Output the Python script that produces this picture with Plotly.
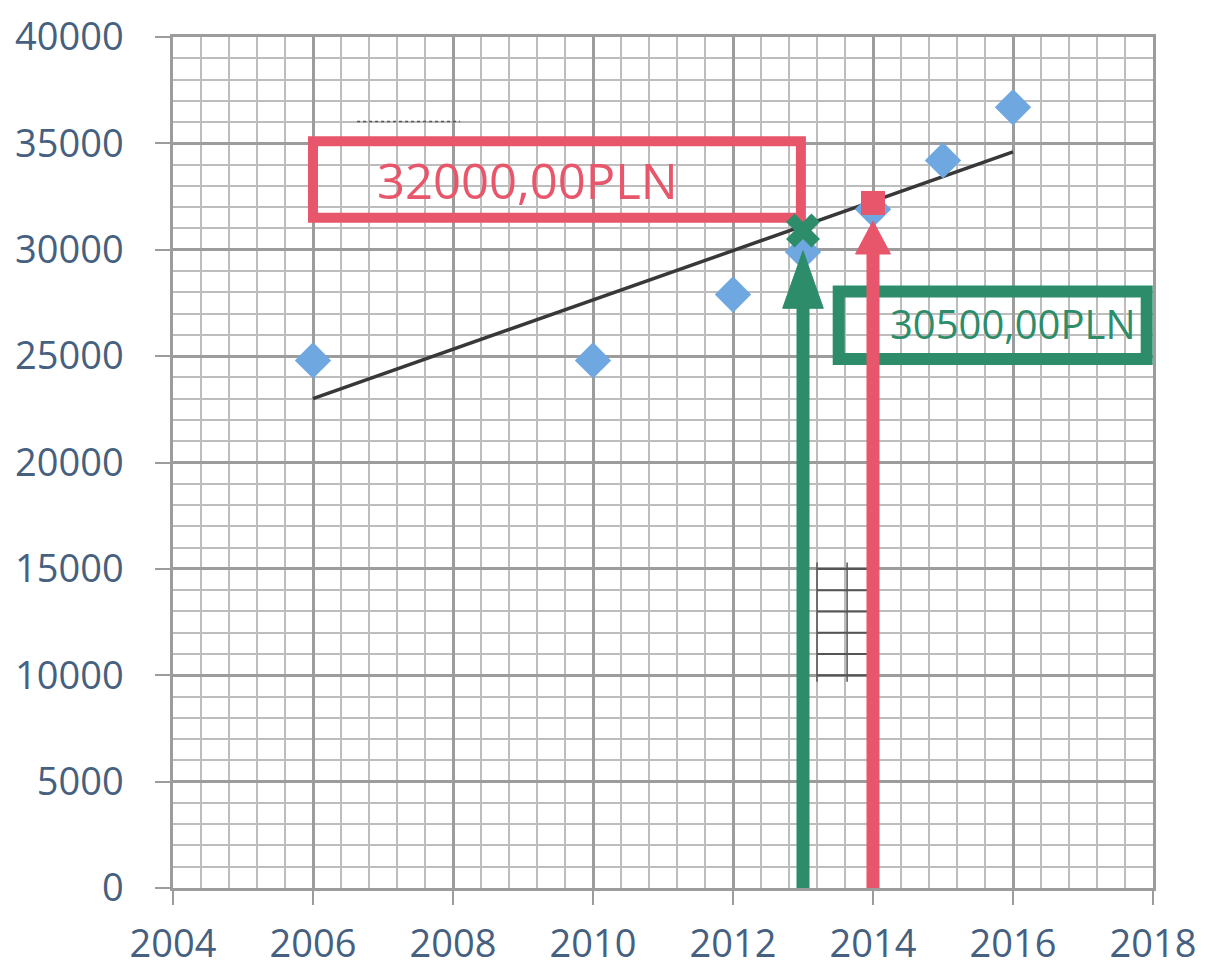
import plotly.graph_objects as go

# ---- data ----
years = [2006, 2010, 2012, 2013, 2014, 2015, 2016]
salaries = [24800, 24800, 27900, 29900, 31900, 34200, 36700]

trend_years = [2006, 2016]
trend_values = [23000, 34600]

green_year = 2013
green_point = 30900
green_label = "30500,00PLN"
green_head = [27250, 29950]      # arrowhead base, tip
green_box_x = [2013.51, 2017.91]
green_box_y = [24860, 28040]
green_text_pos = [2016.0, 26540]

red_year = 2014
red_point = 32200
red_label = "32000,00PLN"
red_head = [29800, 31350]
red_box_x = [2006.0, 2012.97]
red_box_y = [31500, 35100]
red_text_pos = [2009.07, 33270]

# stray marks visible on the scan
ladder_x = [2013.2, 2013.63]
ladder_x_end = 2013.97
ladder_y = [10000, 11000, 12000, 13000, 14000, 15000]
dotted_x = [2006.63, 2008.1]
dotted_y = 36030

x_ticks = [2004, 2006, 2008, 2010, 2012, 2014, 2016, 2018]
y_ticks = [0, 5000, 10000, 15000, 20000, 25000, 30000, 35000, 40000]

GREEN = "#2d8c6a"
RED = "#e8566b"
BLUE = "#6fa8e0"
LABEL = "#46607f"

fig = go.Figure()

# trend line
fig.add_trace(go.Scatter(x=trend_years, y=trend_values, mode="lines",
                         line=dict(color="#383838", width=3.5), hoverinfo="skip"))
# data points
fig.add_trace(go.Scatter(x=years, y=salaries, mode="markers",
                         marker=dict(symbol="diamond", size=28, color=BLUE)))


def arrow(x, head, color, half_w):
    base, tip = head
    fig.add_trace(go.Scatter(x=[x, x], y=[0, base + 100], mode="lines",
                             line=dict(color=color, width=13), cliponaxis=False,
                             hoverinfo="skip"))
    fig.add_trace(go.Scatter(x=[x - half_w, x + half_w, x, x - half_w],
                             y=[base, base, tip, base], mode="lines",
                             fill="toself", fillcolor=color,
                             line=dict(color=color, width=1), hoverinfo="skip"))


arrow(green_year, green_head, GREEN, 0.29)
arrow(red_year, red_head, RED, 0.25)

fig.add_trace(go.Scatter(x=[green_year], y=[green_point], mode="markers",
                         marker=dict(symbol="x", size=30, color=GREEN)))
fig.add_trace(go.Scatter(x=[red_year], y=[red_point], mode="markers",
                         marker=dict(symbol="square", size=24, color=RED)))

# stray marks
for yv in ladder_y:
    fig.add_shape(type="line", x0=ladder_x[0], x1=ladder_x_end, y0=yv, y1=yv,
                  line=dict(color="#555555", width=2), layer="between")
for xv in ladder_x:
    fig.add_shape(type="line", x0=xv, x1=xv, y0=ladder_y[0] - 300, y1=ladder_y[-1] + 300,
                  line=dict(color="#555555", width=1.5), layer="between")
fig.add_shape(type="line", x0=dotted_x[0], x1=dotted_x[1], y0=dotted_y, y1=dotted_y,
              line=dict(color="#555555", width=1.5, dash="dot"), layer="between")

# boxes
fig.add_shape(type="rect", x0=red_box_x[0], x1=red_box_x[1], y0=red_box_y[0], y1=red_box_y[1],
              line=dict(color=RED, width=10), layer="between")
fig.add_shape(type="rect", x0=green_box_x[0], x1=green_box_x[1], y0=green_box_y[0], y1=green_box_y[1],
              line=dict(color=GREEN, width=12), layer="between")

fig.add_annotation(x=red_text_pos[0], y=red_text_pos[1], text=red_label, showarrow=False,
                   font=dict(family="Open Sans", size=49, color=RED), xanchor="center", yanchor="middle")
fig.add_annotation(x=green_text_pos[0], y=green_text_pos[1], text=green_label, showarrow=False,
                   font=dict(family="Open Sans", size=40, color=GREEN), xanchor="center", yanchor="middle")

fig.update_xaxes(range=[2004, 2018], tickvals=x_ticks, ticktext=[str(v) for v in x_ticks],
                 showgrid=True, gridcolor="#9c9c9c", gridwidth=2.5,
                 minor=dict(dtick=0.4, tick0=2004, showgrid=True, gridcolor="#bdbdbd", gridwidth=2),
                 ticks="outside", ticklen=14, tickwidth=2, tickcolor="#9c9c9c",
                 showline=True, linecolor="#9c9c9c", linewidth=2.5, mirror=True,
                 zeroline=False, ticklabelstandoff=7, automargin=False,
                 ticklabeloverflow="allow",
                 tickfont=dict(family="Open Sans", size=38, color=LABEL))
fig.update_yaxes(range=[0, 40000], tickvals=y_ticks, ticktext=[str(v) for v in y_ticks],
                 showgrid=True, gridcolor="#9c9c9c", gridwidth=2.5,
                 minor=dict(dtick=1000, tick0=0, showgrid=True, gridcolor="#bdbdbd", gridwidth=2),
                 ticks="outside", ticklen=15, tickwidth=2, tickcolor="#9c9c9c",
                 showline=True, linecolor="#9c9c9c", linewidth=2.5, mirror=True,
                 zeroline=False, ticklabelstandoff=24, automargin=False,
                 ticklabeloverflow="allow",
                 tickfont=dict(family="Open Sans", size=38, color=LABEL))

fig.update_layout(width=1213, height=973, margin=dict(l=165, r=68, t=29, b=93),
                  paper_bgcolor="white", plot_bgcolor="white", showlegend=False)

fig.write_html("out.html")
